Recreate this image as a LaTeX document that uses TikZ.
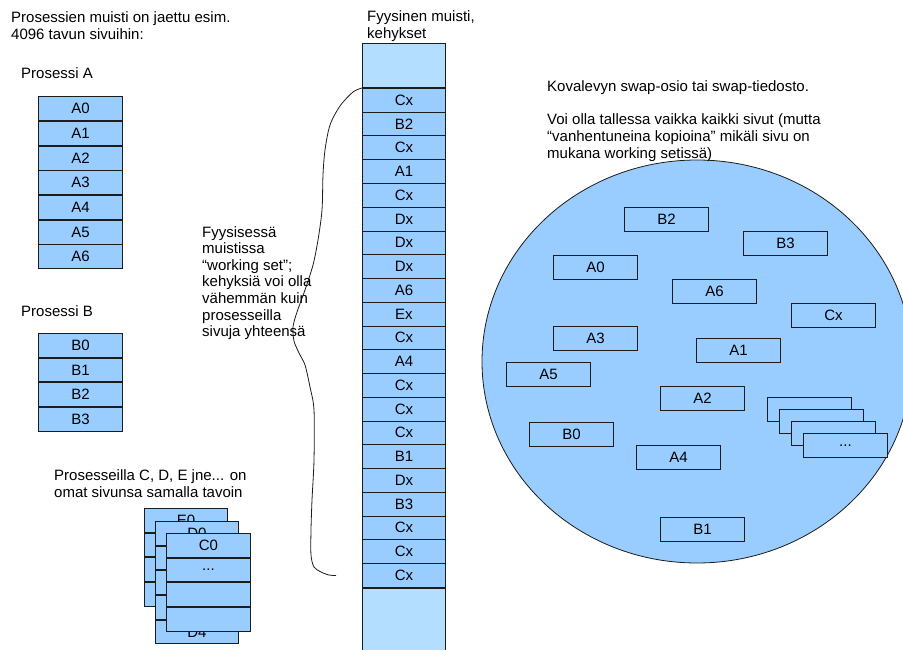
\documentclass[tikz,border=0pt]{standalone}
\usepackage{fontspec}
\setmainfont{Liberation Sans}
\usetikzlibrary{shapes.geometric}
\definecolor{pagefill}{HTML}{99CCFF}
\definecolor{sparefill}{HTML}{B4DEFF}
\definecolor{edgecol}{HTML}{1C1C1C}
\begin{document}
\begin{tikzpicture}[x=1pt,y=-1pt,
  pagebox/.style={draw=edgecol, fill=pagefill, line width=0.9pt,
    minimum width=84pt, minimum height=23.75pt, inner sep=0pt,
    font=\fontsize{15}{17}\selectfont, anchor=north west},
  swapbox/.style={pagebox, minimum height=24pt},
  txt/.style={anchor=base west, inner sep=0pt, font=\fontsize{15}{17}\selectfont}]
\useasboundingbox (0,0) rectangle (903,650);

% --- process A pages ---
\node[pagebox] (a0) at (38,96.5) {A0};
\foreach \i [remember=\i as \j (initially 0)] in {1,...,6}
  \node[pagebox] (a\i) at (a\j.south west) {A\i};

% --- process B pages ---
\node[pagebox] (b0) at (38,333) {B0};
\foreach \i [remember=\i as \j (initially 0)] in {1,...,3}
  \node[pagebox] (b\i) at (b\j.south west) {B\i};

% --- stacked page tables of further processes ---
\node[pagebox, minimum width=83pt] (e0) at (144,508) {E0};
\foreach \i [remember=\i as \j (initially 0)] in {1,...,3}
  \node[pagebox, minimum width=83pt] (e\i) at (e\j.south west) {};
\node[pagebox, minimum width=83pt] (d0) at (155,521) {D0};
\foreach \i [remember=\i as \j (initially 0)] in {1,...,3}
  \node[pagebox, minimum width=83pt] (d\i) at (d\j.south west) {};
\node[pagebox, minimum width=83pt] (d4) at (d3.south west) {D4};
\node[pagebox] (c0) at (166,533) {C0};
\node[pagebox] (c1) at (c0.south west) {...};
\node[pagebox] (c2) at (c1.south west) {};
\node[pagebox] (c3) at (c2.south west) {};

% --- physical memory frames ---
\foreach \t [count=\i] in {Cx,B2,Cx,A1,Cx,Dx,Dx,Dx,A6,Ex,Cx,A4,Cx,Cx,Cx,B1,Dx,B3,Cx,Cx,Cx}
  \node[pagebox, minimum width=83pt] (m\i) at (362,{88+23.75*(\i-1)}) {\t};
\node[draw=edgecol, fill=sparefill, line width=0.9pt, minimum width=83pt,
  minimum height=44pt, inner sep=0pt, anchor=south west] (memtop) at (m1.north west) {};
\node[draw=edgecol, fill=sparefill, line width=0.9pt, minimum width=83pt,
  minimum height=80pt, inner sep=0pt, anchor=north west] (membot) at (m21.south west) {};

% --- working set bracket ---
\coordinate (wsend) at (336,575.5);
\draw[line width=0.8pt, edgecol] plot[smooth] coordinates {(m1.north west) (353,92) (340,106)
  (330,125) (325,150) (323,175) (322,210) (318,240) (313,265) (305,290) (297,312)
  (293,327) (294,341) (299,353) (305,365) (310,387) (314,410) (314,460) (312,500)
  (311,530) (311,555) (314,567) (321,572) (329,575) (wsend)};

% --- swap area ---
\node[draw=edgecol, fill=pagefill, line width=0.8pt, ellipse, inner sep=0pt,
  minimum width=430pt, minimum height=403pt] (disk) at (697,361.5) {};
\node[swapbox] (sB2) at (624,207) {B2};
\node[swapbox] (sB3) at (743,231) {B3};
\node[swapbox] (sA0) at (553,255) {A0};
\node[swapbox] (sA6) at (672,279) {A6};
\node[swapbox] (sCx) at (791,302.5) {Cx};
\node[swapbox] (sA3) at (553,326) {A3};
\node[swapbox] (sA1) at (696,338) {A1};
\node[swapbox] (sA5) at (506,362) {A5};
\node[swapbox] (sA2) at (660,386) {A2};
\node[swapbox] (sB0) at (529,421.5) {B0};
\node[swapbox] (sA4) at (636,445) {A4};
\node[swapbox] (sB1) at (660,516.5) {B1};
\node[swapbox] (sx1) at (767,397) {};
\node[swapbox] (sx2) at (779,409) {};
\node[swapbox] (sx3) at (791,421) {};
\node[swapbox] (sx4) at (803,433) {...};

% --- explanatory texts ---
\node[txt] (t1) at (11,23) {Prosessien muisti on jaettu esim.};
\node[txt] (t2) at (11,40) {4096 tavun sivuihin:};
\node[txt] (la) at (21,79) {Prosessi A};
\node[txt] (lb) at (21,316) {Prosessi B};
\node[txt] (lc1) at (54,480) {Prosesseilla C, D, E jne... on};
\node[txt] (lc2) at (54,497) {omat sivunsa samalla tavoin};
\node[txt] (fm1) at (367,22) {Fyysinen muisti,};
\node[txt] (fm2) at (367,39) {kehykset};
\foreach \s [count=\i] in {Fyysisessä,muistissa,{“working set”;},kehyksiä voi olla,vähemmän kuin,prosesseilla,sivuja yhteensä}
  \node[txt] (ws\i) at (202,{237+16.65*(\i-1)}) {\s};
\node[txt] (sw1) at (547,92) {Kovalevyn swap-osio tai swap-tiedosto.};
\node[txt] (sw2) at (547,125) {Voi olla tallessa vaikka kaikki sivut (mutta};
\node[txt] (sw3) at (547,142) {“vanhentuneina kopioina” mikäli sivu on};
\node[txt] (sw4) at (547,159) {mukana working setissä)};
\end{tikzpicture}
\end{document}
